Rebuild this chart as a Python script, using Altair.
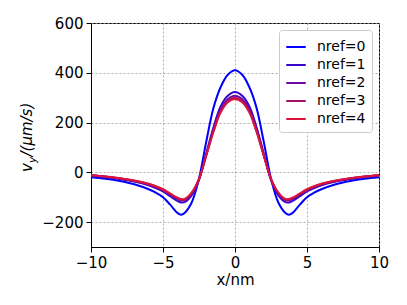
import altair as alt
import pandas as pd

x_nm = [-10, -9, -8, -7, -6, -5.5, -5, -4.5, -4, -3.75, -3.5, -3, -2.5, -2, -1.5, -1, -0.5, 0,
        0.5, 1, 1.5, 2, 2.5, 3, 3.5, 3.75, 4, 4.5, 5, 5.5, 6, 7, 8, 9, 10]

nref0 = [-20, -26, -35, -48, -68, -82, -100, -130, -163, -170, -163, -120, -25, 122, 258, 342, 392, 410,
         392, 342, 258, 122, -25, -120, -163, -170, -163, -130, -100, -82, -68, -48, -35, -26, -20]
nref1 = [-14, -19, -27, -37, -52, -63, -77, -96, -115, -121, -120, -92, -30, 75, 180, 265, 308, 323,
         308, 265, 180, 75, -30, -92, -120, -121, -115, -96, -77, -63, -52, -37, -27, -19, -14]
nref2 = [-13, -18, -25, -35, -49, -59, -72, -90, -107, -113, -112, -85, -28, 70, 170, 252, 294, 308,
         294, 252, 170, 70, -28, -85, -112, -113, -107, -90, -72, -59, -49, -35, -25, -18, -13]
nref3 = [-12, -17, -24, -34, -47, -57, -70, -87, -104, -110, -109, -82, -27, 68, 165, 245, 286, 300,
         286, 245, 165, 68, -27, -82, -109, -110, -104, -87, -70, -57, -47, -34, -24, -17, -12]
nref4 = [-12, -17, -24, -33, -46, -56, -68, -85, -102, -107, -107, -80, -26, 66, 162, 240, 282, 295,
         282, 240, 162, 66, -26, -80, -107, -107, -102, -85, -68, -56, -46, -33, -24, -17, -12]

series_names = ["nref=0", "nref=1", "nref=2", "nref=3", "nref=4"]
series_values = [nref0, nref1, nref2, nref3, nref4]
series_colors = ["#0000ff", "#3705ce", "#6e0a9e", "#a50f6d", "#dc143c"]

x_ticks = [-10, -5, 0, 5, 10]
y_ticks = [-200, 0, 200, 400, 600]

rows = []
for order, (name, vals) in enumerate(zip(series_names, series_values)):
    for xv, yv in zip(x_nm, vals):
        rows.append({"x": xv, "v": yv, "series": name, "order": order})
df = pd.DataFrame(rows)

FONT = "DejaVu Sans"

lines = alt.Chart(df).mark_line(strokeWidth=2, interpolate="catmull-rom", clip=True).encode(
    x=alt.X("x:Q", scale=alt.Scale(domain=[-10, 10], nice=False),
            axis=alt.Axis(values=x_ticks, title="x/nm", titlePadding=2, labelFlush=False)),
    y=alt.Y("v:Q", scale=alt.Scale(domain=[-300, 600], nice=False, zero=False),
            axis=alt.Axis(values=y_ticks, title=None, labelFlush=False)),
    color=alt.Color("series:N",
                    scale=alt.Scale(domain=series_names, range=series_colors),
                    legend=alt.Legend(title=None, orient="none", legendX=188, legendY=7,
                                      symbolType="stroke", symbolStrokeWidth=2, symbolSize=380,
                                      labelFontSize=14, labelFont=FONT, labelColor="black",
                                      strokeColor="#cccccc", fillColor="white",
                                      cornerRadius=3, padding=6, rowPadding=0, labelOffset=10)),
    order=alt.Order("order:Q"),
)

t_v = alt.Chart(pd.DataFrame({"t": ["v"]})).mark_text(
    angle=270, align="left", baseline="alphabetic", fontSize=15, fontStyle="italic", font=FONT
).encode(text="t:N", x=alt.value(-59), y=alt.value(149))
t_y = alt.Chart(pd.DataFrame({"t": ["y"]})).mark_text(
    angle=270, align="left", baseline="alphabetic", fontSize=10.5, fontStyle="italic", font=FONT
).encode(text="t:N", x=alt.value(-55.5), y=alt.value(140))
t_rest = alt.Chart(pd.DataFrame({"t": ["/(μm/s)"]})).mark_text(
    angle=270, align="left", baseline="alphabetic", fontSize=15, fontStyle="italic", font=FONT
).encode(text="t:N", x=alt.value(-59), y=alt.value(133.5))

chart = alt.layer(lines, t_v, t_y, t_rest).properties(
    width=288, height=224,
    autosize=alt.AutoSizeParams(type="none"),
    padding={"left": 83, "top": 15, "right": 20, "bottom": 50},
).configure(font=FONT).configure_view(
    stroke="black", strokeWidth=1
).configure_axis(
    labelFont=FONT, labelFontSize=15, labelColor="black", labelPadding=3,
    titleFont=FONT, titleFontSize=15, titleFontWeight="normal", titleColor="black",
    tickColor="black", tickSize=5, domainColor="black", domainWidth=1,
    grid=True, gridColor="#9a9a9a", gridDash=[2, 2], gridWidth=0.8,
)

chart.save("out.html", embed_options={"renderer": "svg", "actions": False})
